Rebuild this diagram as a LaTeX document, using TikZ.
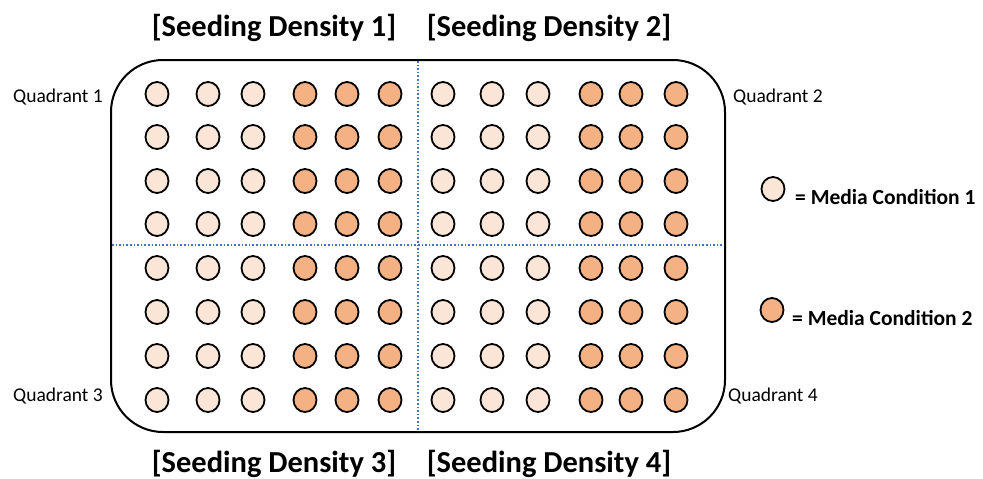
\documentclass[tikz,border=0pt]{standalone}
\usepackage{fontspec}
\setmainfont{Carlito}
\usetikzlibrary{shapes.geometric}
\definecolor{mediaA}{HTML}{FBE5D6}
\definecolor{mediaB}{HTML}{F4B183}
\definecolor{divider}{HTML}{4472C4}
\begin{document}
\begin{tikzpicture}[x=1pt,y=-1pt,
  well/.style={ellipse, draw=black, line width=1.8pt, minimum width=23pt, minimum height=24pt, inner sep=0pt},
  wellA/.style={well, fill=mediaA},
  wellB/.style={well, fill=mediaB},
  title/.style={font=\fontsize{30.5}{34}\selectfont\bfseries, inner sep=0pt},
  quad/.style={font=\fontsize{19.5}{22}\selectfont, inner sep=0pt, anchor=west},
  legend/.style={font=\fontsize{21.5}{24}\selectfont\bfseries, inner sep=0pt, anchor=west},
  split/.style={draw=divider, line width=1.6pt, dotted}]
\useasboundingbox (0,0) rectangle (983,479);
% plate outline
\draw[line width=2pt, rounded corners=52pt] (111,60) rectangle (725,432);
% quadrant dividers
\coordinate (vt) at (418,61);
\coordinate (vb) at (418,431);
\coordinate (hl) at (112,245);
\coordinate (hr) at (724,245);
\draw[split] (vt) -- (vb);
\draw[split] (hl) -- (hr);
% wells
\foreach \y [count=\r] in {94,137,181,224,268,312,356,400}{
  \foreach \x [count=\c] in {157,208,253,443,492,538}
    \node[wellA] (a-\r-\c) at (\x,\y) {};
  \foreach \x [count=\c] in {305,347,390,591,631,676}
    \node[wellB] (b-\r-\c) at (\x,\y) {};
}
% titles
\node[title] (t1) at (274,28) {[Seeding Density 1]};
\node[title] (t2) at (549,28) {[Seeding Density 2]};
\node[title] (t3) at (274,464) {[Seeding Density 3]};
\node[title] (t4) at (549,464) {[Seeding Density 4]};
% quadrant labels
\node[quad] (q1) at (13,97) {Quadrant 1};
\node[quad] (q2) at (733,97) {Quadrant 2};
\node[quad] (q3) at (13,396) {Quadrant 3};
\node[quad] (q4) at (728,396) {Quadrant 4};
% legend
\node[wellA] (l1) at (773,189) {};
\node[legend] (l1t) at (795,197) {= Media Condition 1};
\node[wellB] (l2) at (772,310) {};
\node[legend] (l2t) at (792,318) {= Media Condition 2};
\end{tikzpicture}
\end{document}
